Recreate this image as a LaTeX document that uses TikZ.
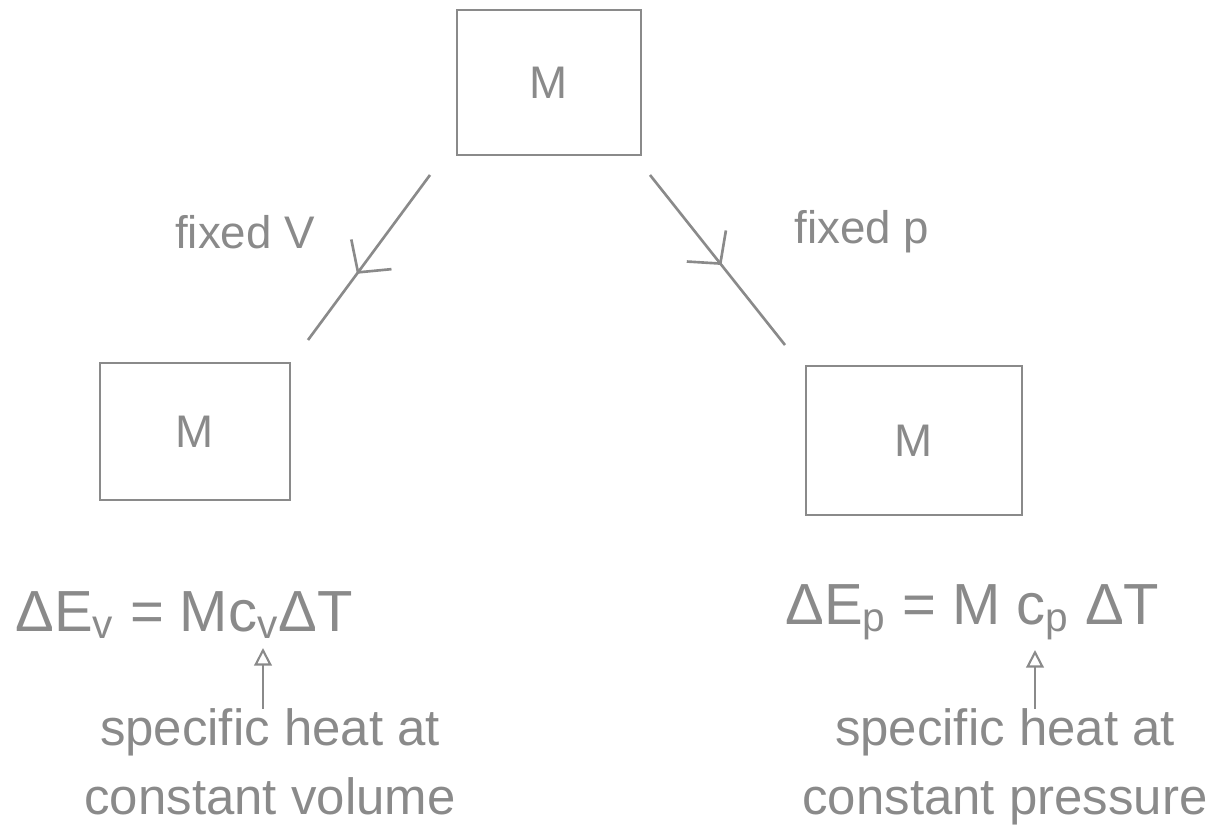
\documentclass[tikz,border=0pt]{standalone}
\usepackage{fontspec}
\setmainfont{Liberation Sans}
\usetikzlibrary{arrows.meta,decorations.markings}
\definecolor{ink}{HTML}{8A8A8A}
\tikzset{
  box/.style={draw=ink, line width=1.5pt, inner sep=0pt},
  boxlbl/.style={text=ink, font=\fontsize{26}{30}\selectfont, inner sep=0pt},
  lbl/.style={text=ink, font=\fontsize{26}{30}\selectfont, inner sep=0pt},
  eqn/.style={text=ink, font=\fontsize{33}{37}\selectfont, inner sep=0pt, anchor=west},
  note/.style={text=ink, font=\fontsize{29}{39}\selectfont, inner sep=0pt, align=center},
  conn/.style={draw=ink, line width=1.5pt, postaction={decorate},
    decoration={markings, mark=at position #1 with {\arrow[ink, line width=1.5pt]{Straight Barb[length=4.5mm, width=10mm]}}}},
  up/.style={draw=ink, line width=1.2pt, -{Triangle[open, length=3.5mm, width=3.5mm, line width=1.2pt]}}
}
\begin{document}
\begin{tikzpicture}[x=0.02cm, y=-0.02cm]
\useasboundingbox (0,0) rectangle (1218,828);
\node[box, minimum width=3.68cm, minimum height=2.9cm] (top) at (549,82.5) {};
\node[boxlbl] at (top.center) {M};
\node[box, minimum width=3.8cm, minimum height=2.74cm] (left) at (195,431.5) {};
\node[boxlbl] at (left.center) {M};
\node[box, minimum width=4.32cm, minimum height=2.98cm] (right) at (914,440.5) {};
\node[boxlbl] at (right.center) {M};

\coordinate (l1) at (430,175);
\coordinate (l2) at (308,340);
\coordinate (r1) at (650,175);
\coordinate (r2) at (785,345);
\draw[conn=0.6] (l1) -- (l2);
\draw[conn=0.53] (r1) -- (r2);
\node[lbl] (fv) at (245,232) {fixed V};
\node[lbl] (fp) at (862,232) {fixed p};

\node[eqn] (eqL) at (15,615) {ΔE\textsubscript{v} = Mc\textsubscript{v}ΔT};
\node[eqn] (eqR) at (785,612) {ΔE\textsubscript{p} = M c\textsubscript{p} ΔT};

\node[note] (nL) at (270,762) {specific heat at\\constant volume};
\node[note] (nR) at (1005,767) {specific heat at\\constant pressure};
\coordinate (tL) at (263,648);
\coordinate (tR) at (1035,650);
\draw[up] (nL.north -| tL) -- (tL);
\draw[up] (nR.north -| tR) -- (tR);
\end{tikzpicture}
\end{document}
